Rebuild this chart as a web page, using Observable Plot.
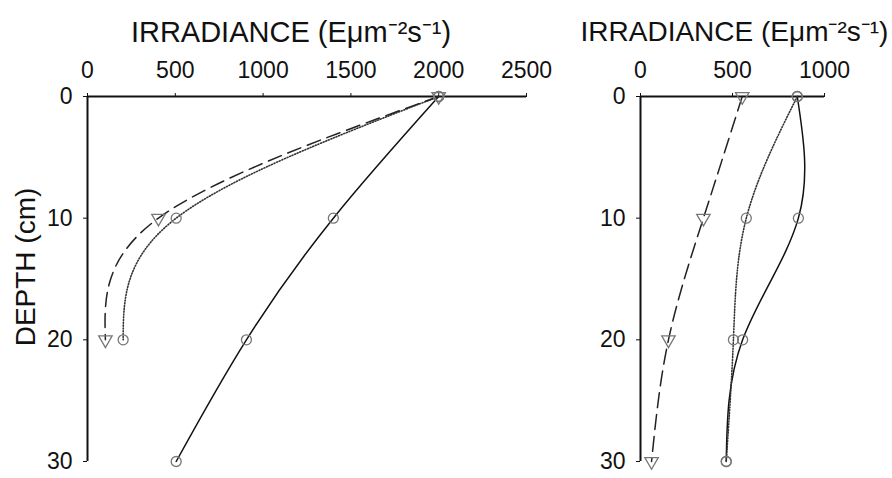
<!DOCTYPE html>
<html>
<head>
<meta charset="utf-8">
<script src="https://cdn.jsdelivr.net/npm/d3@7"></script>
<script src="https://cdn.jsdelivr.net/npm/@observablehq/plot@0.6"></script>
<style>
  body { margin: 0; background: #fff; }
  #wrap { position: relative; width: 892px; height: 478px; font-family: "Liberation Sans", Arial, sans-serif; overflow: hidden; }
  #left, #right { position: absolute; top: 0; }
  #left { left: 0; }
  #right { left: 560px; }
  svg { overflow: visible; }
</style>
</head>
<body>
<div id="wrap"><div id="left"></div><div id="right"></div></div>
<script>
// ---- data ----
const depths = [0, 10, 20, 30];
const depths3 = [0, 10, 20];
const leftSolid = [2000, 1400, 905, 505];
const leftDotted = [2000, 505, 203];
const leftDashed = [2000, 404, 102];
const rightSolid = [852, 858, 555, 466];
const rightDotted = [852, 575, 505, 466];
const rightDashed = [553, 342, 152, 60];
const leftXTicks = [0, 500, 1000, 1500, 2000, 2500];
const rightXTicks = [0, 500, 1000];
const depthTicks = [0, 10, 20, 30];
const xTitle = "IRRADIANCE (E\u03BCm\u207B\u00B2s\u207B\u00B9)";
const yTitle = "DEPTH (cm)";

const toRows = (vals, ds) => vals.map((v, i) => ({x: v, depth: ds[i]}));

const FONT = "'Liberation Sans', Arial, sans-serif";

function panel({width, marginLeft, marginRight, xDomain, xTicks, series, titleDx, titleSize, withYLabel}) {
  const marks = [
    Plot.ruleY([0], {stroke: "#111", strokeWidth: 2}),
    Plot.ruleX([0], {stroke: "#111", strokeWidth: 2})
  ];
  for (const s of series) {
    marks.push(Plot.line(s.rows, {x: "x", y: "depth", curve: "natural", stroke: s.stroke, strokeWidth: s.sw, strokeDasharray: s.dash}));
  }
  for (const s of series) {
    marks.push(Plot.dot(s.rows, {x: "x", y: "depth", symbol: s.symbol, r: s.r, rotate: s.rotate, stroke: "#777", strokeWidth: 1.3, fill: "none"}));
  }
  marks.push(Plot.text([xTitle], {frameAnchor: "top", textAnchor: "middle", lineAnchor: "middle", dx: titleDx, dy: -64, fontSize: titleSize, fill: "#111", text: d => d}));
  if (withYLabel) {
    marks.push(Plot.text([yTitle], {frameAnchor: "left", textAnchor: "middle", lineAnchor: "middle", dx: -61, dy: -12, rotate: -90, fontSize: 28, fill: "#111", text: d => d}));
  }
  return Plot.plot({
    width, height: 478,
    marginLeft, marginRight, marginTop: 96, marginBottom: 17,
    style: {fontSize: "23px", fontFamily: FONT, color: "#111", background: "white", overflow: "visible"},
    x: {domain: xDomain, axis: "top", ticks: xTicks, tickSize: 4, tickPadding: 15, label: null, tickFormat: d => String(d)},
    y: {domain: [0, 30], reverse: true, ticks: depthTicks, tickSize: 4, tickPadding: 11, label: null, tickFormat: d => String(d)},
    marks
  });
}

const leftSeries = [
  {rows: toRows(leftSolid, depths), stroke: "#111", sw: 1.5, dash: null, symbol: "circle", r: 5, rotate: 0},
  {rows: toRows(leftDotted, depths3), stroke: "#333", sw: 1.6, dash: "1,1.8", symbol: "circle", r: 5, rotate: 0},
  {rows: toRows(leftDashed, depths3), stroke: "#222", sw: 1.5, dash: "14,7", symbol: "triangle", r: 5, rotate: 180}
];
const rightSeries = [
  {rows: toRows(rightSolid, depths), stroke: "#111", sw: 1.5, dash: null, symbol: "circle", r: 5, rotate: 0},
  {rows: toRows(rightDotted, depths), stroke: "#333", sw: 1.6, dash: "1,1.8", symbol: "circle", r: 5, rotate: 0},
  {rows: toRows(rightDashed, depths), stroke: "#222", sw: 1.5, dash: "15,7", symbol: "triangle", r: 5, rotate: 180}
];

document.getElementById("left").append(panel({
  width: 560, marginLeft: 87, marginRight: 34, xDomain: [0, 2500], xTicks: leftXTicks,
  series: leftSeries, titleDx: -16, titleSize: 29, withYLabel: true
}));
document.getElementById("right").append(panel({
  width: 332, marginLeft: 80, marginRight: 68, xDomain: [0, 1000], xTicks: rightXTicks,
  series: rightSeries, titleDx: 2, titleSize: 28, withYLabel: false
}));
</script>
</body>
</html>
